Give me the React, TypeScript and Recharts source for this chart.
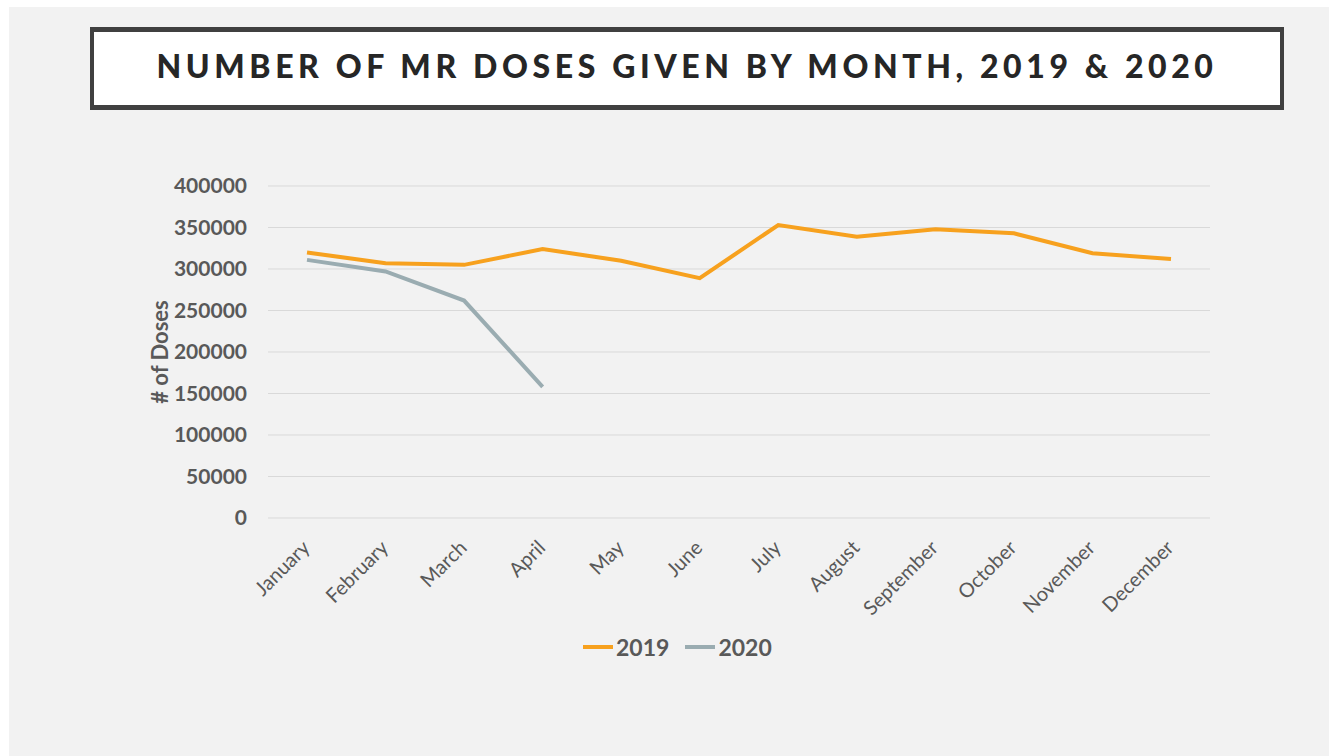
import { LineChart, Line, XAxis, YAxis, CartesianGrid, Legend } from "recharts";

const months = [
  "January",
  "February",
  "March",
  "April",
  "May",
  "June",
  "July",
  "August",
  "September",
  "October",
  "November",
  "December",
];
const doses2019 = [320000, 307000, 305000, 324000, 310000, 289000, 353000, 339000, 348000, 343000, 319000, 312000];
const doses2020 = [311000, 297000, 262000, 158000];
const yTicks = [0, 50000, 100000, 150000, 200000, 250000, 300000, 350000, 400000];

const ORANGE = "#F7A11E";
const GREY = "#9AACB1";
const TEXT = "#595959";
const FONT = "Lato, 'Open Sans', sans-serif";

const data = months.map((m, i) => ({
  month: m,
  y2019: doses2019[i],
  y2020: i < doses2020.length ? doses2020[i] : null,
}));

function MonthTick({ x, y, payload }: any) {
  return (
    <text
      x={x + 4}
      y={y}
      transform={`rotate(-45 ${x + 4} ${y})`}
      textAnchor="end"
      fill={TEXT}
      fontSize={20}
      fontFamily={FONT}
    >
      {payload.value}
    </text>
  );
}

function DosesLabel({ viewBox }: any) {
  const cx = viewBox.x + 11;
  const cy = viewBox.y + viewBox.height / 2;
  return (
    <text
      x={cx}
      y={cy}
      transform={`rotate(-90 ${cx} ${cy})`}
      textAnchor="middle"
      dominantBaseline="central"
      fill={TEXT}
      fontSize={22}
      fontWeight={700}
      fontFamily={FONT}
    >
      # of Doses
    </text>
  );
}

function LegendContent({ payload }: any) {
  return (
    <div style={{ display: "flex", alignItems: "center", fontFamily: FONT }}>
      {(payload || []).map((p: any) => (
        <span key={p.value} style={{ display: "inline-flex", alignItems: "center", marginRight: 16 }}>
          <svg width={30} height={6}>
            <line x1={0} y1={3} x2={30} y2={3} stroke={p.color} strokeWidth={4} />
          </svg>
          <span style={{ fontSize: 23, fontWeight: 700, color: TEXT, marginLeft: 3 }}>{p.value}</span>
        </span>
      ))}
    </div>
  );
}

export default function App() {
  return (
    <div style={{ position: "absolute", left: 0, top: 0, width: 1329, height: 756, background: "#fff" }}>
      <div style={{ position: "absolute", left: 9, top: 7, width: 1320, height: 749, background: "#f2f2f2" }} />
      <div
        style={{
          position: "absolute",
          left: 90,
          top: 27,
          width: 1194,
          height: 83,
          boxSizing: "border-box",
          borderStyle: "solid",
          borderColor: "#404040",
          borderWidth: "5px 4px",
          paddingBottom: 6,
          background: "#fff",
          display: "flex",
          alignItems: "center",
          justifyContent: "center",
          fontFamily: FONT,
          fontWeight: 900,
          fontSize: 32,
          letterSpacing: 4.6,
          color: "#262626",
        }}
      >
        NUMBER OF MR DOSES GIVEN BY MONTH, 2019 &amp; 2020
      </div>
      <div style={{ position: "absolute", left: 0, top: 150 }}>
        <LineChart width={1329} height={540} data={data} margin={{ top: 36, right: 119, left: 148, bottom: 0 }}>
          <CartesianGrid vertical={false} stroke="#d9d9d9" strokeWidth={1} />
          <XAxis
            dataKey="month"
            interval={0}
            height={172}
            padding={{ left: 39, right: 39 }}
            axisLine={false}
            tickLine={false}
            tickSize={0}
            tick={<MonthTick />}
            tickMargin={31}
          />
          <YAxis
            width={120}
            domain={[0, 400000]}
            ticks={yTicks}
            axisLine={false}
            tickLine={false}
            tickSize={0}
            tickMargin={21}
            tick={{ fill: TEXT, fontSize: 21, fontWeight: 700, fontFamily: FONT }}
            label={<DosesLabel />}
          />
          <Legend
            layout="horizontal"
            verticalAlign="middle"
            align="center"
            content={<LegendContent />}
            wrapperStyle={{ position: "absolute", left: 583, top: 483, width: "auto" }}
          />
          <Line
            name="2019"
            dataKey="y2019"
            stroke={ORANGE}
            strokeWidth={4}
            dot={false}
            activeDot={false}
            isAnimationActive={false}
          />
          <Line
            name="2020"
            dataKey="y2020"
            stroke={GREY}
            strokeWidth={4}
            dot={false}
            activeDot={false}
            isAnimationActive={false}
          />
        </LineChart>
      </div>
    </div>
  );
}
